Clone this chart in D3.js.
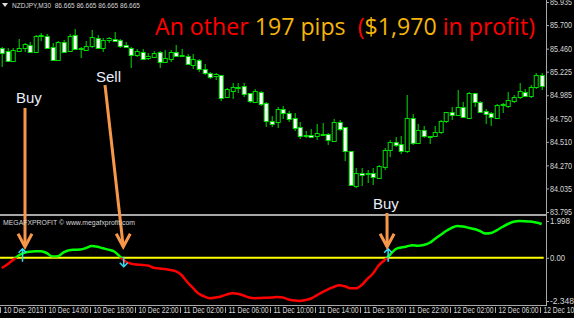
<!DOCTYPE html>
<html>
<head>
<meta charset="utf-8">
<script src="https://cdn.jsdelivr.net/npm/d3@7"></script>
<style>
  body { margin: 0; background: #000; }
  text { white-space: pre; }
</style>
</head>
<body>
<svg id="chart" width="574" height="318"></svg>
<script>
// NZDJPY M30 bars, 10 Dec 2013 10:00 -> 12 Dec 2013 10:00
const opens = [85.466,85.435,85.333,85.442,85.463,85.496,85.428,85.588,85.591,85.479,
  85.351,85.530,85.435,85.598,85.463,85.446,85.479,85.571,85.469,85.544,
  85.558,85.547,85.496,85.469,85.395,85.428,85.364,85.377,85.428,85.320,
  85.361,85.428,85.391,85.384,85.293,85.344,85.252,85.214,85.173,85.191,
  84.959,85.031,85.063,85.079,85.004,84.913,85.021,84.908,84.725,84.705,
  84.841,84.807,84.756,84.664,84.574,84.579,84.562,84.587,84.586,84.521,
  84.715,84.658,84.413,84.060,84.195,84.179,84.189,84.138,84.256,84.427,
  84.508,84.488,84.409,84.750,84.495,84.630,84.566,84.569,84.613,84.715,
  84.817,84.783,84.862,84.760,85.004,84.919,84.824,84.800,84.756,84.885,
  84.875,84.926,84.964,85.017,84.977,85.065,85.191];
const highs = [85.476,85.469,85.463,85.558,85.514,85.530,85.598,85.616,85.605,85.514,
  85.537,85.547,85.605,85.659,85.479,85.537,85.649,85.598,85.565,85.581,
  85.632,85.558,85.530,85.479,85.456,85.453,85.412,85.438,85.438,85.446,
  85.446,85.496,85.453,85.405,85.405,85.351,85.303,85.224,85.214,85.191,
  85.061,85.106,85.112,85.112,85.010,85.045,85.028,84.919,84.773,84.862,
  84.875,84.827,84.807,84.715,84.620,84.637,84.688,84.699,84.597,84.739,
  84.732,84.658,84.413,84.240,84.246,84.223,84.246,84.274,84.444,84.529,
  84.556,84.569,84.987,84.793,84.691,84.671,84.572,84.671,84.732,84.817,
  84.862,85.038,84.919,85.021,85.010,84.929,84.841,84.817,84.895,84.902,
  85.014,84.987,85.106,85.051,85.089,85.214,85.214];
const lows = [85.272,85.320,85.320,85.428,85.422,85.422,85.422,85.537,85.456,85.344,
  85.344,85.412,85.428,85.446,85.361,85.435,85.463,85.456,85.428,85.514,
  85.537,85.469,85.469,85.259,85.377,85.351,85.344,85.361,85.259,85.310,
  85.326,85.371,85.377,85.293,85.249,85.224,85.191,85.147,85.140,84.926,
  84.953,84.946,85.004,84.970,84.908,84.908,84.875,84.664,84.664,84.648,
  84.739,84.715,84.623,84.536,84.546,84.546,84.529,84.579,84.478,84.511,
  84.620,84.317,84.055,84.036,84.063,84.093,84.070,84.128,84.223,84.358,
  84.454,84.386,84.399,84.478,84.488,84.546,84.488,84.556,84.590,84.699,
  84.732,84.773,84.750,84.750,84.868,84.800,84.691,84.674,84.750,84.800,
  84.858,84.902,84.943,84.964,84.953,85.045,85.038];
const closes = [85.415,85.333,85.446,85.469,85.504,85.428,85.588,85.595,85.469,85.351,
  85.530,85.428,85.591,85.456,85.459,85.486,85.575,85.469,85.547,85.565,
  85.537,85.489,85.476,85.395,85.435,85.361,85.384,85.418,85.326,85.361,
  85.428,85.384,85.395,85.300,85.351,85.252,85.214,85.173,85.198,84.959,
  85.045,85.072,85.068,84.997,84.919,85.028,84.902,84.722,84.699,84.841,
  84.800,84.750,84.658,84.572,84.584,84.562,84.597,84.592,84.529,84.715,
  84.648,84.409,84.063,84.189,84.179,84.189,84.144,84.263,84.427,84.511,
  84.478,84.419,84.750,84.495,84.630,84.569,84.569,84.613,84.722,84.811,
  84.790,84.862,84.760,85.010,84.908,84.817,84.790,84.756,84.885,84.892,
  84.936,84.970,85.025,84.977,85.072,85.191,85.079];

// MEGAFXPROFIT oscillator
const signal = [-0.555,-0.365,-0.12,0.124,0.276,0.330,0.352,0.352,0.26,0.07,
  0.08,0.298,0.412,0.434,0.45,0.531,0.64,0.602,0.515,0.444,
  0.341,0.07,-0.202,-0.316,-0.365,-0.392,-0.42,-0.539,-0.582,-0.609,
  -0.664,-0.745,-0.95,-1.316,-1.64,-1.94,-2.10,-2.20,-2.157,-2.10,
  -1.994,-1.93,-1.956,-2.049,-2.157,-2.195,-2.18,-2.17,-2.157,-2.13,
  -2.157,-2.266,-2.32,-2.348,-2.293,-2.212,-2.04,-1.87,-1.712,-1.587,
  -1.489,-1.55,-1.658,-1.658,-1.478,-1.152,-0.854,-0.42,-0.148,0.151,
  0.466,0.559,0.613,0.684,0.656,0.694,0.803,1.02,1.238,1.455,
  1.629,1.726,1.694,1.629,1.563,1.455,1.319,1.346,1.493,1.672,
  1.835,1.955,1.998,1.99,1.965,1.916,1.835];

// signal arrows (bar index, direction) and the callouts
const arrowBars = [4, 22, 69];
const arrowDirs = ['up', 'down', 'up'];
const calloutText = ['Buy', 'Sell', 'Buy'];

const priceTicks = [85.935, 85.700, 85.460, 85.225, 84.985, 84.750, 84.510, 84.270, 84.035, 83.795];
const signalTicks = [1.998, 0, -2.348];
const headerText = 'NZDJPY,M30  86.665 86.665 86.665 86.665';
const titleParts = [
  ['An other ', 'red'], ['197 pips', 'gold'], ['  (', 'red'],
  ['$1,970', 'gold'], [' in profit)', 'red']
];

const colors = { red: '#ff0000', gold: '#f5b50a' };
const axisGray = '#a8a8a8';
const textGray = '#d8d8d8';
const smallFont = 'Liberation Sans, Arial, sans-serif';

const start = new Date(2013, 11, 10, 10, 0);
const end = new Date(2013, 11, 12, 10, 0);
const times = d3.timeMinute.every(30).range(start, d3.timeMinute.offset(end, 1));
const bars = times.map((t, i) => ({ t, o: opens[i], h: highs[i], l: lows[i], c: closes[i], s: signal[i] }));

const svg = d3.select('#chart');
svg.append('rect').attr('width', 574).attr('height', 318).attr('fill', '#000');

const plotRight = 546;
const x = d3.scaleTime().domain([start, end]).range([0, 540]);
const y = d3.scaleLinear().domain([83.795, 85.935]).range([212, 2]);
const yi = d3.scaleLinear().domain([-2.348, 1.998]).range([301, 221]);
const shift = 1.7; // MT4 draws bars slightly right of the time tick

// ---- candles ----
const cg = svg.append('g').attr('transform', `translate(${shift},0)`);
const left = d => Math.round(x(d.t)) - 2;

cg.selectAll('line.wick').data(bars).enter().append('line')
  .attr('class', 'wick')
  .attr('x1', d => left(d) + 2.5).attr('x2', d => left(d) + 2.5)
  .attr('y1', d => Math.round(y(d.h))).attr('y2', d => Math.round(y(d.l)))
  .attr('stroke', '#00e000').attr('stroke-width', 1);

cg.selectAll('rect.body').data(bars).enter().append('rect')
  .attr('class', 'body')
  .attr('x', d => left(d) + 0.5)
  .attr('y', d => Math.round(y(Math.max(d.o, d.c))) + 0.5)
  .attr('width', 4)
  .attr('height', d => Math.max(1, Math.round(Math.abs(y(d.o) - y(d.c)))))
  .attr('fill', d => d.c < d.o ? '#ffffff' : '#000000')
  .attr('stroke', '#00e000').attr('stroke-width', 1);

// ---- frame ----
svg.append('line').attr('x1', plotRight + 0.5).attr('x2', plotRight + 0.5)
  .attr('y1', 0).attr('y2', 305).attr('stroke', axisGray);
svg.append('line').attr('x1', 0).attr('x2', plotRight + 1)
  .attr('y1', 305.5).attr('y2', 305.5).attr('stroke', axisGray);
svg.append('rect').attr('x', 0).attr('y', 214).attr('width', plotRight + 1).attr('height', 2)
  .attr('fill', axisGray);

// ---- price axis ----
const styleAxis = g => {
  g.select('.domain').remove();
  g.selectAll('line').attr('stroke', axisGray);
  g.selectAll('text').attr('fill', textGray).attr('font-family', smallFont).attr('font-size', 8.5)
    .attr('lengthAdjust', 'spacingAndGlyphs');
};
svg.append('g').attr('transform', `translate(${plotRight},0)`)
  .call(d3.axisRight(y).tickValues(priceTicks).tickSize(3).tickPadding(1).tickFormat(d => d.toFixed(3)))
  .call(styleAxis)
  .call(g => g.selectAll('text').attr('textLength', 22));

svg.append('g').attr('transform', `translate(${plotRight},0)`)
  .call(d3.axisRight(yi).tickValues(signalTicks).tickSize(3).tickPadding(1)
    .tickFormat(d => d === 0 ? '0.00' : d.toFixed(3)))
  .call(styleAxis)
  .call(g => g.selectAll('text').attr('textLength', d => d === 0 ? 15 : (d < 0 ? 24 : 20)));

// ---- time axis ----
const fmtFirst = d3.timeFormat('%d %b %Y');
const fmt = d3.timeFormat('%d %b %H:%M');
const timeTicks = times.filter((t, i) => i % 8 === 0);
svg.append('g').attr('transform', 'translate(0,305)')
  .call(d3.axisBottom(x).tickValues(timeTicks).tickSize(8)
    .tickFormat((d, i) => i === 0 ? fmtFirst(d) : fmt(d)))
  .call(g => {
    styleAxis(g);
    g.selectAll('line').attr('y1', 2);
    g.selectAll('text').attr('text-anchor', 'start').attr('x', 3).attr('y', 2)
      .attr('dy', '0.71em').attr('textLength', 40);
  });

// ---- oscillator ----
const ig = svg.append('g').attr('transform', `translate(${shift},0)`);
ig.append('line').attr('x1', -shift).attr('x2', 542)
  .attr('y1', yi(0)).attr('y2', yi(0)).attr('stroke', '#ffff00').attr('stroke-width', 2);

const defs = svg.append('defs');
defs.append('clipPath').attr('id', 'above').append('rect')
  .attr('x', -5).attr('y', 216).attr('width', 560).attr('height', yi(0) - 216);
defs.append('clipPath').attr('id', 'below').append('rect')
  .attr('x', -5).attr('y', yi(0)).attr('width', 560).attr('height', 305 - yi(0));

const line = d3.line().x(d => x(d.t)).y(d => yi(d.s)).curve(d3.curveMonotoneX);
ig.append('path').datum(bars).attr('d', line).attr('fill', 'none')
  .attr('stroke', '#00ff00').attr('stroke-width', 2.5).attr('clip-path', 'url(#above)');
ig.append('path').datum(bars).attr('d', line).attr('fill', 'none')
  .attr('stroke', '#ff0000').attr('stroke-width', 2.5).attr('clip-path', 'url(#below)');

// cyan signal arrows
const sigs = arrowBars.map((b, i) => ({ t: times[b], dir: arrowDirs[i], text: calloutText[i] }));
svg.selectAll('path.sig').data(sigs).enter().append('path')
  .attr('class', 'sig')
  .attr('d', d => {
    const cx = x(d.t), z = yi(0);
    if (d.dir === 'up') {
      return `M${cx},${z + 4}V${z - 9}M${cx - 4},${z - 5}L${cx},${z - 9}L${cx + 4},${z - 5}`;
    }
    return `M${cx},${z - 1}V${z + 9}M${cx - 4},${z + 5}L${cx},${z + 9}L${cx + 4},${z + 5}`;
  })
  .attr('fill', 'none').attr('stroke', '#33ddf5').attr('stroke-width', 1.5);

// ---- callouts ----
const callouts = [
  { tx: 16, ty: 103, x0: 25, y0: 108, tipDx: 2.5 },
  { tx: 96, ty: 82, x0: 105, y0: 85, tipDx: -0.5 },
  { tx: 373, ty: 209, x0: 387, y0: 213, tipDx: -1 }
];
const orange = '#f7974a';
sigs.forEach((d, i) => {
  const c = callouts[i];
  const tipX = x(d.t) + c.tipDx, tipY = yi(0) - 11;
  svg.append('text').attr('x', c.tx).attr('y', c.ty).text(d.text)
    .attr('fill', '#e8eef8').attr('font-family', smallFont).attr('font-size', 15);
  svg.append('line').attr('x1', c.x0).attr('y1', c.y0).attr('x2', tipX).attr('y2', tipY)
    .attr('stroke', orange).attr('stroke-width', 3);
  svg.append('path')
    .attr('d', `M${tipX - 7},${tipY - 13}L${tipX},${tipY}L${tipX + 7},${tipY - 13}`)
    .attr('fill', 'none').attr('stroke', orange).attr('stroke-width', 3)
    .attr('stroke-linejoin', 'miter');
});

// ---- texts ----
svg.append('path').attr('d', 'M2,3L8,3L5,7Z').attr('fill', '#dddddd');
svg.append('text').attr('x', 12).attr('y', 8).text(headerText)
  .attr('fill', textGray).attr('font-family', smallFont).attr('font-size', 8)
  .attr('textLength', 128).attr('lengthAdjust', 'spacingAndGlyphs');
svg.append('text').attr('x', 3).attr('y', 225).text('MEGAFXPROFIT \u00a9 www.megafxprofit.com')
  .attr('fill', textGray).attr('font-family', smallFont).attr('font-size', 8)
  .attr('textLength', 132).attr('lengthAdjust', 'spacingAndGlyphs');

const title = svg.append('text').attr('x', 155).attr('y', 35)
  .attr('font-family', 'Open Sans, Liberation Sans, Arial, sans-serif').attr('font-size', 23)
  .attr('textLength', 380).attr('lengthAdjust', 'spacingAndGlyphs');
titleParts.forEach(p => title.append('tspan').text(p[0]).attr('fill', colors[p[1]]));
</script>
</body>
</html>
